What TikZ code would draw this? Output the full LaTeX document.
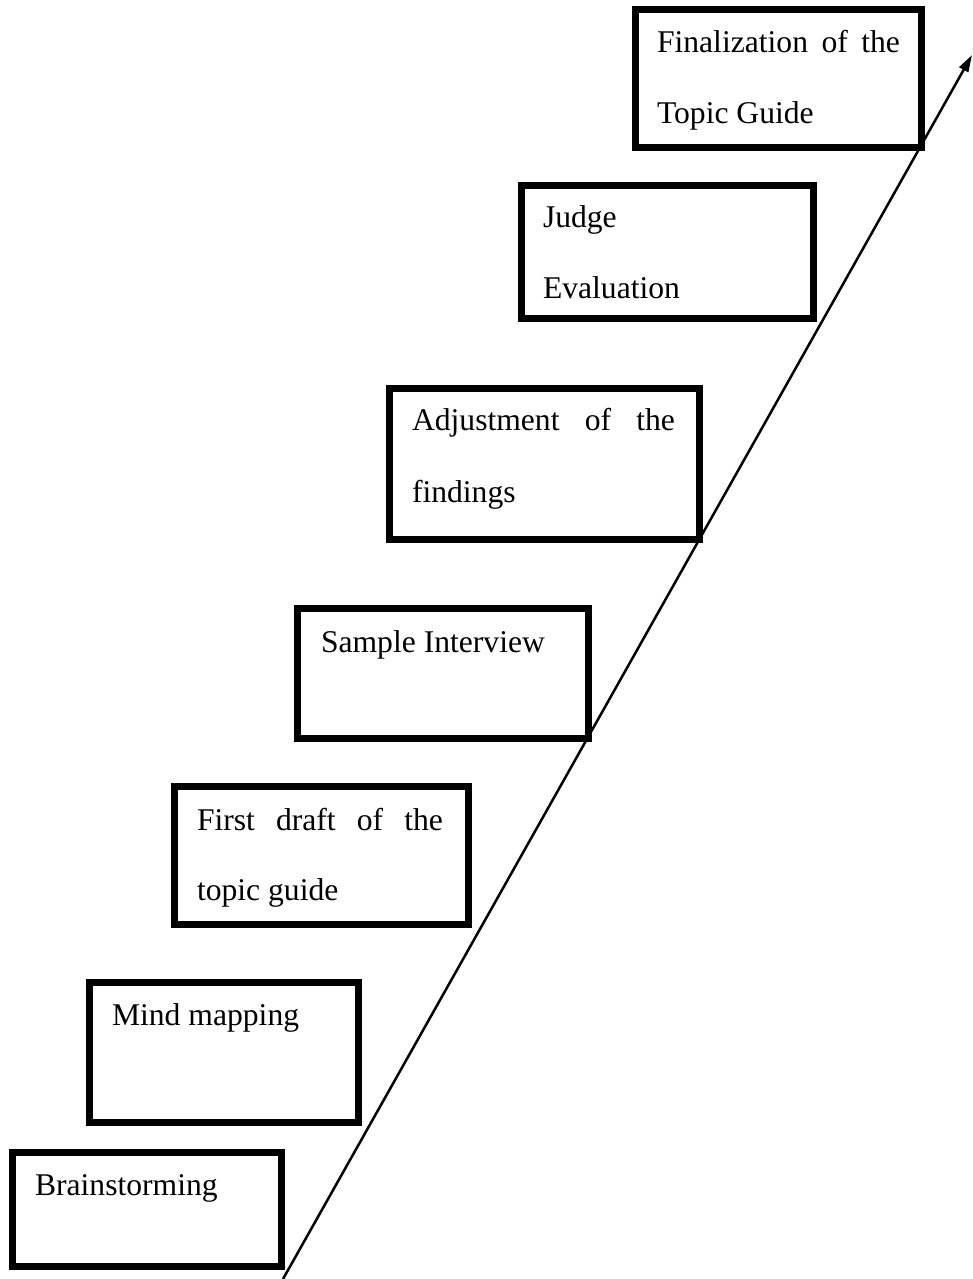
\documentclass[tikz,border=0pt]{standalone}
\usepackage{fontspec}
\setmainfont{Liberation Serif}
\usetikzlibrary{arrows.meta}
% stretch a line of words to a given width (justified line)
\newcommand\jline[2]{\makebox[#1][s]{#2}}
\begin{document}
\begin{tikzpicture}[x=0.02cm,y=-0.02cm,
  stepbox/.style={draw, rectangle, line width=0.14cm, anchor=north west,
    inner sep=0pt, outer sep=0pt},
  boxsize/.style 2 args={minimum width=#1*0.02cm, minimum height=#2*0.02cm},
  steptext/.style={anchor=base west, inner sep=0pt, outer sep=0pt,
    font=\fontsize{18}{22}\selectfont},
  rise/.style={line width=0.05cm, -{Triangle[length=0.34cm,width=0.2cm]}}]
\useasboundingbox (0,0) rectangle (973,1279);

% the seven steps, bottom-left to top-right
\node[stepbox, boxsize={286}{138}] (final) at (635.5,9.5) {};
\node[stepbox, boxsize={292}{133}] (judge) at (521.5,185.5) {};
\node[stepbox, boxsize={310}{151}] (adjust) at (389.5,388.5) {};
\node[stepbox, boxsize={291}{130}] (sample) at (297.5,608.5) {};
\node[stepbox, boxsize={294}{138}] (draft) at (174.5,786.5) {};
\node[stepbox, boxsize={269}{140}] (mind) at (89.5,982.5) {};
\node[stepbox, boxsize={269}{114}] (brain) at (12.5,1152.5) {};

% step labels
\node[steptext] (finalA) at (657,52) {\jline{4.86cm}{Finalization of the}};
\node[steptext] (finalB) at (657,123) {Topic Guide};
\node[steptext] (judgeA) at (543,227) {Judge};
\node[steptext] (judgeB) at (543,298) {Evaluation};
\node[steptext] (adjustA) at (412,430) {\jline{5.26cm}{Adjustment of the}};
\node[steptext] (adjustB) at (412,502) {findings};
\node[steptext] (sampleA) at (321,652) {Sample Interview};
\node[steptext] (draftA) at (197,830) {\jline{4.92cm}{First draft of the}};
\node[steptext] (draftB) at (197,900) {topic guide};
\node[steptext] (mindA) at (112,1025) {Mind mapping};
\node[steptext] (brainA) at (35,1195) {Brainstorming};

% rising arrow along the steps
\coordinate (riseStart) at (283,1279);
\coordinate (riseEnd) at (972,55);
\draw[rise] (riseStart) -- (riseEnd);
\end{tikzpicture}
\end{document}
